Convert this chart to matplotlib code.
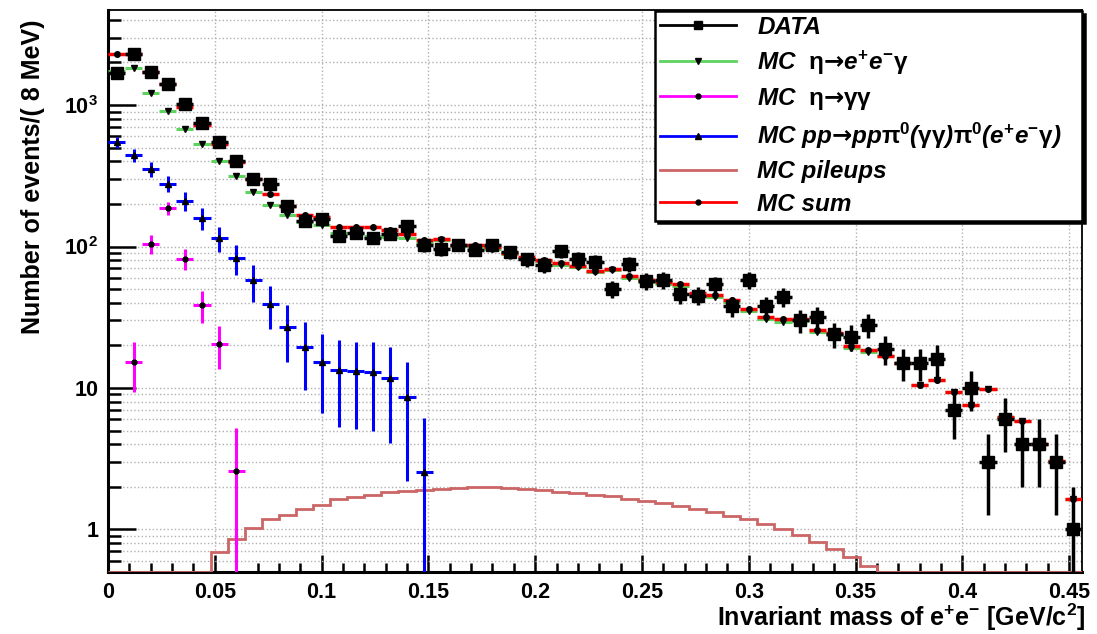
import numpy as np
import matplotlib
matplotlib.use('Agg')
import matplotlib.pyplot as plt
from matplotlib.lines import Line2D
from matplotlib.ticker import MultipleLocator, LogLocator, FuncFormatter, NullFormatter

plt.rcParams['font.family'] = ['Liberation Sans', 'DejaVu Sans']
plt.rcParams['font.weight'] = 'bold'
plt.rcParams['mathtext.fontset'] = 'custom'
plt.rcParams['mathtext.rm'] = 'Liberation Sans:bold'
plt.rcParams['mathtext.it'] = 'Liberation Sans:italic:bold'
plt.rcParams['mathtext.bf'] = 'Liberation Sans:bold'
plt.rcParams['mathtext.sf'] = 'Liberation Sans'
plt.rcParams['mathtext.cal'] = 'DejaVu Sans'

# 8 MeV bins from 0 to 0.456 GeV/c^2
bin_width = 0.008
n_bins = 57
edges = np.arange(n_bins + 1) * bin_width
mass = edges[:-1] + bin_width / 2

data = [1680, 2300, 1720, 1420, 1010, 750, 550, 403, 302, 277,
        192, 152, 157, 118, 125, 115, 123, 139, 102, 96,
        103, 95, 102, 91, 81, 74, 93, 82, 78, 50,
        75, 57, 58, 46, 45, 54, 38, 58, 38, 44,
        30, 32, 24, 23, 28, 19, 15, 15, 16, 7,
        10, 3, 6, 4, 4, 3, 1]

mc_eeg = [1740, 1832, 1216, 907, 681, 528, 403, 313, 244, 197,
          167, 148, 141, 124, 125, 119, 116, 115, 106, 111,
          101, 100, 96.6, 88, 82, 78.7, 74.2, 71.2, 65.8, 67.9,
          59.9, 56, 54.5, 52.5, 45.3, 44.1, 40.4, 34.8, 30.6, 29.5,
          29.6, 24.8, 23.6, 19.2, 18.0, 16.9, 15.1, 10.5, 11.4, 9.3,
          7.6, 9.8, 6.28, 5.85, 4.03, 3.03, 1.64]

mc_sum = [2300, 2290, 1720, 1420, 968, 719, 534, 399, 302, 235,
          193, 168, 161, 138, 138, 138, 130, 123, 111, 113,
          103, 102, 98.6, 90, 84, 80.6, 76, 73, 67.6, 69.6,
          61.5, 57.6, 56, 54, 46.7, 45.4, 41.6, 36, 31.7, 30.5,
          30.5, 25.6, 24.3, 19.8, 18.5, 16.9, 15.1, 10.5, 11.4, 9.3,
          7.6, 9.8, 6.28, 5.85, 4.03, 3.03, 1.64]

# pp -> pp pi0 pi0, bins 0..18
mc_pi0 = [549, 442, 352, 277, 211, 158, 115, 83, 57.6, 39.5,
          27, 19.5, 15.3, 13.5, 13.2, 13.0, 11.8, 8.7, 2.55]
mc_pi0_err = [48, 45, 42, 36, 33, 28, 23, 20, 17, 13.5,
              11.7, 9.8, 8.6, 8.2, 8.1, 8.0, 7.7, 6.5, 3.6]

# eta -> gamma gamma, bins 1..7
mc_gg = [15.3, 105, 187, 82, 38.4, 20.6, 2.57]
mc_gg_err = [6, 16, 21, 14, 9.7, 7, 2.6]

mc_pileup = [0, 0, 0, 0, 0, 0, 0.69, 0.86, 1.03, 1.18,
             1.27, 1.40, 1.50, 1.63, 1.70, 1.76, 1.83, 1.88, 1.90, 1.93,
             1.97, 2.0, 2.0, 1.95, 1.93, 1.91, 1.85, 1.81, 1.76, 1.72,
             1.64, 1.60, 1.54, 1.46, 1.40, 1.33, 1.25, 1.19, 1.10, 1.0,
             0.92, 0.82, 0.73, 0.64, 0.55, 0, 0, 0, 0, 0,
             0, 0, 0, 0, 0, 0, 0]

c_green = '#5ed35e'
c_mag = '#ff00ff'
c_blue = '#0000ff'
c_red = '#ff0000'
c_pile = '#cc6666'

ymin, ymax = 0.5, 4700

fig = plt.figure(figsize=(10.97, 6.34), dpi=100)
ax = fig.add_axes([108 / 1097, 62 / 634, 974 / 1097, 562 / 634])
ax.set_yscale('log')

# MC pileups (step histogram)
ax.stairs(np.clip(mc_pileup, ymin, None), edges, color=c_pile, lw=2,
          baseline=None, zorder=3)

# MC pp -> pp pi0 pi0
ax.errorbar(mass[:len(mc_pi0)], mc_pi0, xerr=bin_width / 2, yerr=mc_pi0_err,
            fmt='^', color=c_blue, mfc='k', mec='k', ms=5, elinewidth=2.2,
            capsize=0, zorder=3)

# MC eta -> gamma gamma
ax.errorbar(mass[1:1 + len(mc_gg)], mc_gg, xerr=bin_width / 2, yerr=mc_gg_err,
            fmt='o', color=c_mag, mfc='k', mec='k', ms=3.5, elinewidth=2.2,
            capsize=0, zorder=3)

# MC eta -> e+e-gamma
ax.errorbar(mass, mc_eeg, xerr=bin_width / 2, fmt='v', color=c_green,
            mfc='k', mec='k', ms=5, elinewidth=2.2, capsize=0, zorder=4)

# MC sum
ax.errorbar(mass, mc_sum, xerr=bin_width / 2, fmt='o', color=c_red,
            mfc='k', mec='k', ms=4, elinewidth=2.5, capsize=0, zorder=5)

# data
data = np.array(data, dtype=float)
ax.errorbar(mass, data, xerr=bin_width / 2, yerr=np.sqrt(data), fmt='s',
            color='k', ms=8.5, elinewidth=2.5, capsize=0, zorder=6)

ax.set_xlim(0, n_bins * bin_width)
ax.set_ylim(ymin, ymax)

# axes styling in ROOT fashion
ax.xaxis.set_major_locator(MultipleLocator(0.05))
ax.xaxis.set_minor_locator(MultipleLocator(0.01))
ax.xaxis.set_major_formatter(FuncFormatter(lambda v, p: '%g' % round(v, 3)))
ax.yaxis.set_major_locator(LogLocator(base=10))
ax.yaxis.set_minor_locator(LogLocator(base=10, subs=np.arange(2, 10)))
ax.yaxis.set_minor_formatter(NullFormatter())


def ylab(v, p):
    if v < 5:
        return '1'
    if v < 50:
        return '10'
    return r'$\mathbf{10^{%d}}$' % int(round(np.log10(v)))


ax.yaxis.set_major_formatter(FuncFormatter(ylab))
ax.tick_params(axis='both', which='both', direction='in', width=1.8,
               labelsize=15.5, top=False, right=False)
ax.tick_params(axis='y', which='major', length=20, pad=7)
ax.tick_params(axis='y', which='minor', length=9.5)
ax.tick_params(axis='x', which='major', length=12, pad=7)
ax.tick_params(axis='x', which='minor', length=6.5)

ax.grid(True, axis='x', which='major', color='#b0b0b0', ls=':', lw=1)
ax.grid(True, axis='y', which='both', color='#b0b0b0', ls=':', lw=1)
ax.set_axisbelow(True)
for s in ['left', 'bottom']:
    ax.spines[s].set_linewidth(2.2)
for s in ['top', 'right']:
    ax.spines[s].set_linewidth(1.3)

fig.text(33 / 1097, 1 - 20 / 634, 'Number of events/( 8 MeV)', rotation=90,
         ha='center', va='top', fontsize=18, fontweight='bold')
fig.text(1085 / 1097, 1 - 617 / 634,
         r'Invariant mass of e$^{+}$e$^{-}$ [GeV/c$^{2}$]',
         ha='right', va='center', fontsize=18, fontweight='bold')

handles = [
    Line2D([], [], color='k', lw=2, marker='s', ms=6, mfc='k', mec='k'),
    Line2D([], [], color=c_green, lw=2, marker='v', ms=5, mfc='k', mec='k'),
    Line2D([], [], color=c_mag, lw=2, marker='o', ms=3.5, mfc='k', mec='k'),
    Line2D([], [], color=c_blue, lw=2, marker='^', ms=5, mfc='k', mec='k'),
    Line2D([], [], color=c_pile, lw=2),
    Line2D([], [], color=c_red, lw=2, marker='o', ms=3.5, mfc='k', mec='k'),
]
labels = [
    'DATA',
    r'MC  $\mathsf{\eta}\mathcal{→}e^{+}e^{-}\mathsf{\gamma}$',
    r'MC  $\mathsf{\eta}\mathcal{→}\mathsf{\gamma\gamma}$',
    r'MC pp$\mathcal{→}$pp$\mathsf{\pi}^{0}$($\mathsf{\gamma\gamma}$)'
    r'$\mathsf{\pi}^{0}$(e$^{+}$e$^{-}\mathsf{\gamma}$)',
    'MC pileups',
    'MC sum',
]
leg = ax.legend(handles, labels, loc='upper left', mode='expand',
                bbox_to_anchor=(0.5616, 0.63, 0.4384, 0.368), borderaxespad=0,
                prop={'family': 'Liberation Sans', 'style': 'italic',
                      'weight': 'bold', 'size': 17.5},
                handlelength=3.15, handletextpad=0.85, labelspacing=0.38,
                borderpad=0.2, fancybox=False, framealpha=1,
                edgecolor='k', shadow={'color': 'k', 'alpha': 1})
leg.get_frame().set_linewidth(1.8)
leg.set_zorder(10)

fig.savefig('out.png', dpi=100)
